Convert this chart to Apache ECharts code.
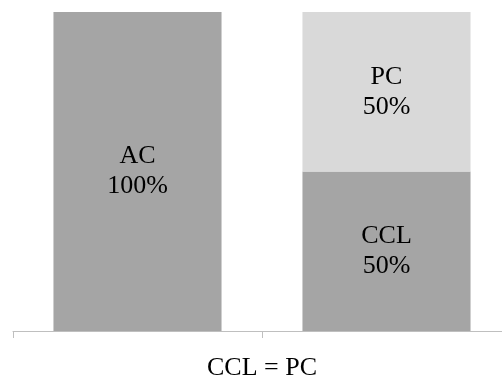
<!DOCTYPE html>
<html>
<head>
<meta charset="utf-8">
<script src="https://cdn.jsdelivr.net/npm/echarts@6/dist/echarts.min.js"></script>
<style>
  html, body { margin: 0; padding: 0; background: #ffffff; }
  #chart { width: 502px; height: 381px; }
</style>
</head>
<body>
<div id="chart"></div>
<script>
// Two scenarios along the x axis; each bar is split into stacked shares (%).
var categories = ['AC', 'CCL = PC'];
var axisTitle = 'CCL = PC';

// Lower segment of each bar
var lowerNames = ['AC', 'CCL'];
var lowerValues = [100, 50];

// Upper segment of each bar (none on the first bar)
var upperNames = ['', 'PC'];
var upperValues = [null, 50];

var serifFont = '"Liberation Serif", "DejaVu Serif", serif';

function segmentLabel(names) {
  return function (p) {
    if (p.value == null || !names[p.dataIndex]) return '';
    return names[p.dataIndex] + '\n' + p.value + '%';
  };
}

var chart = echarts.init(document.getElementById('chart'), null, { renderer: 'canvas' });
chart.setOption({
  animation: false,
  backgroundColor: '#ffffff',
  grid: {
    left: 13, right: -9, top: 12, bottom: 50,
    containLabel: false,
    outerBoundsMode: 'none'
  },
  xAxis: {
    type: 'category',
    data: categories,
    name: axisTitle,
    nameLocation: 'middle',
    nameGap: 24,
    nameTextStyle: { fontFamily: serifFont, fontSize: 26, color: '#000000' },
    axisLine: { lineStyle: { color: '#bfbfbf', width: 1 } },
    axisTick: { show: true, length: 7, lineStyle: { color: '#bfbfbf' } },
    axisLabel: { show: false }
  },
  yAxis: {
    type: 'value',
    min: 0,
    max: 100,
    show: false
  },
  series: [
    {
      name: 'lower',
      type: 'bar',
      stack: 'share',
      barWidth: '67.5%',
      data: lowerValues,
      itemStyle: { color: '#a5a5a5' },
      label: {
        show: true,
        position: 'inside',
        formatter: segmentLabel(lowerNames),
        fontFamily: serifFont,
        fontSize: 26,
        lineHeight: 30,
        color: '#000000'
      }
    },
    {
      name: 'upper',
      type: 'bar',
      stack: 'share',
      barWidth: '67.5%',
      data: upperValues,
      itemStyle: { color: '#d9d9d9' },
      label: {
        show: true,
        position: 'inside',
        formatter: segmentLabel(upperNames),
        fontFamily: serifFont,
        fontSize: 26,
        lineHeight: 30,
        color: '#000000'
      }
    }
  ]
});
</script>
</body>
</html>
